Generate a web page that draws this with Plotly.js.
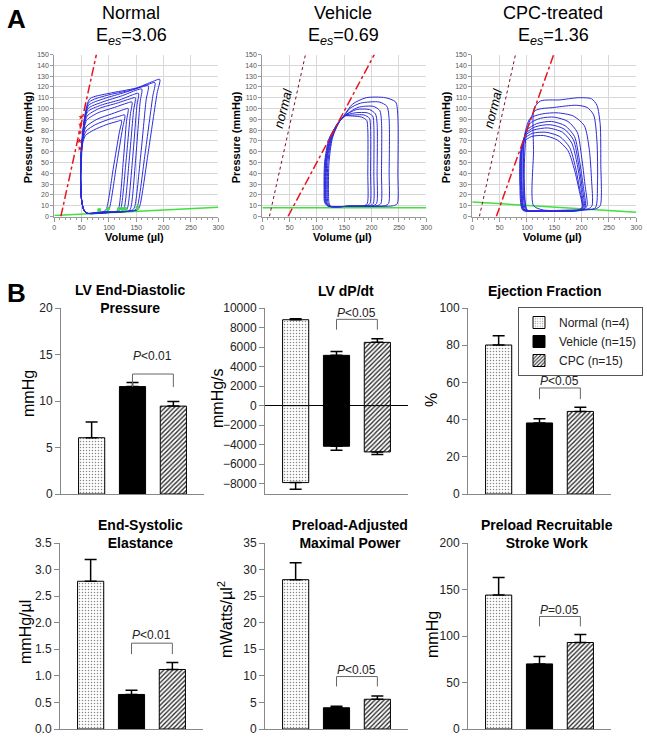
<!DOCTYPE html>
<html>
<head>
<meta charset="utf-8">
<script src="https://cdn.plot.ly/plotly-3.0.1.min.js"></script>
<style>
  body { margin: 0; background: white; }
  #fig { width: 647px; height: 738px; }
</style>
</head>
<body>
<div id="fig"></div>
<script>
// ---------- Panel A: pressure-volume loops (volume in ul, pressure in mmHg) ----------
var normalLoopsV = [
  [60, 80, 92, 96, 108, 119, 123, 115, 95, 72, 57, 52, 49, 48, 50, 54, 60],
  [60, 82, 97, 101, 113, 125, 129, 120, 100, 75, 58, 52, 49, 48, 50, 54, 60],
  [60, 90, 114, 118, 126, 132, 135, 127, 105, 78, 58, 52, 49, 48, 50, 54, 60],
  [60, 92, 118, 122, 131, 139, 142, 133, 110, 80, 59, 53, 49, 48, 50, 54, 60],
  [60, 95, 124, 128, 137, 145, 148, 139, 115, 82, 60, 53, 49, 48, 50, 54, 60],
  [60, 98, 130, 134, 143, 151, 154, 145, 120, 85, 61, 54, 50, 48, 50, 54, 60],
  [60, 100, 136, 140, 149, 157, 160, 150, 125, 88, 62, 54, 50, 48, 50, 54, 60],
  [60, 105, 143, 147, 158, 168, 172, 160, 130, 90, 63, 55, 50, 48, 50, 54, 60],
  [60, 108, 148, 152, 166, 180, 184, 170, 140, 95, 64, 55, 50, 48, 50, 54, 60],
  [60, 110, 152, 156, 172, 188, 193, 180, 150, 100, 65, 56, 51, 49, 50, 54, 60]
];
var normalLoopsP = [
  [3, 4, 5, 8, 45, 78, 89, 88, 85, 80, 75, 68, 55, 35, 15, 6, 3],
  [3, 4, 5, 8, 45, 82, 94, 93, 90, 85, 79, 70, 55, 35, 15, 6, 3],
  [3, 4, 5, 8, 50, 88, 100, 99, 95, 90, 83, 72, 56, 35, 15, 6, 3],
  [3, 4, 5, 8, 50, 94, 106, 105, 101, 96, 89, 76, 58, 35, 15, 6, 3],
  [3, 4, 5, 8, 52, 98, 110, 109, 105, 100, 93, 78, 60, 35, 15, 6, 3],
  [3, 4, 5, 8, 52, 102, 114, 113, 108, 103, 97, 82, 62, 35, 15, 6, 3],
  [3, 4, 5, 8, 54, 106, 118, 117, 112, 106, 100, 85, 64, 35, 15, 6, 3],
  [3, 4, 6, 9, 56, 108, 121, 120, 115, 109, 103, 88, 65, 35, 15, 6, 3],
  [3, 4, 6, 9, 58, 111, 124, 122, 117, 112, 106, 90, 66, 35, 15, 6, 3],
  [3, 4, 6, 9, 60, 114, 127, 125, 119, 114, 109, 94, 68, 35, 15, 6, 3]
];

var vehicleLoopsV = [
  [125, 160, 186, 192, 193, 193, 191, 182, 165, 150, 140, 128, 122, 121, 122, 125],
  [125, 160, 190, 197, 198, 198, 196, 186, 168, 150, 140, 127, 120, 119, 120, 125],
  [124, 160, 196, 203, 204, 204, 202, 192, 170, 150, 140, 126, 118, 117, 118, 124],
  [123, 160, 202, 209, 210, 210, 207, 196, 172, 150, 140, 125, 117, 116, 117, 123],
  [122, 160, 210, 217, 218, 218, 215, 203, 175, 150, 140, 124, 116, 115, 116, 122],
  [121, 160, 224, 231, 232, 232, 228, 214, 180, 160, 150, 139, 123, 115, 114, 115, 121],
  [120, 160, 240, 247, 248, 248, 244, 225, 190, 165, 150, 139, 122, 114, 113, 114, 120]
];
var vehicleLoopsP = [
  [9.5, 9.5, 10, 12, 40, 80, 89, 92, 93, 93, 87, 72, 50, 25, 13, 9.5],
  [9.5, 9.5, 10, 12, 40, 82, 91, 94, 94, 93, 87, 72, 50, 25, 13, 9.5],
  [9.5, 9.5, 10, 12, 40, 84, 93, 96, 96, 93, 87, 72, 50, 25, 13, 9.5],
  [9.5, 9.5, 10, 12, 40, 86, 95, 99, 99, 93, 87, 72, 50, 25, 13, 9.5],
  [9.5, 9.5, 10, 12, 40, 88, 98, 102, 101, 93, 87, 72, 50, 25, 13, 9.5],
  [9.5, 9.5, 10, 12, 40, 90, 102, 106, 105, 100, 93, 87, 72, 50, 25, 13, 9.5],
  [9.5, 9.5, 10, 12, 40, 92, 106, 110, 110, 104, 94, 87, 72, 50, 25, 13, 9.5]
];

var cpcLoopsV = [
  [112, 112, 113, 125, 160, 195, 218, 228, 234, 235, 234, 225, 180, 130, 112],
  [100, 95, 100, 115, 150, 190, 210, 222, 228, 229, 225, 200, 150, 110, 100],
  [100, 94, 96, 106, 128, 155, 185, 205, 214, 218, 219, 212, 170, 120, 100],
  [98, 93, 95, 105, 125, 150, 175, 192, 200, 206, 210, 205, 170, 120, 98],
  [96, 91, 92, 100, 118, 145, 170, 187, 196, 203, 207, 202, 170, 120, 96],
  [95, 90, 91, 98, 115, 142, 168, 185, 194, 201, 205, 200, 165, 115, 95],
  [94, 89, 90, 97, 112, 138, 165, 182, 192, 199, 203, 198, 160, 115, 94],
  [93, 88, 89, 95, 110, 135, 160, 178, 189, 197, 202, 196, 160, 115, 93],
  [92, 87, 88, 94, 108, 130, 155, 175, 187, 196, 201, 195, 160, 115, 92]
];
var cpcLoopsP = [
  [10, 60, 100, 107, 108, 110, 109, 103, 85, 50, 10, 7, 6, 6, 10],
  [6, 40, 80, 98, 101, 103, 101, 94, 70, 30, 8, 6, 5, 5, 6],
  [6, 35, 76, 91, 95, 96, 93, 84, 62, 35, 10, 7, 5, 5, 6],
  [6, 35, 72, 86, 91, 92, 88, 78, 55, 30, 10, 7, 5, 5, 6],
  [6, 30, 65, 80, 86, 88, 84, 74, 52, 28, 9, 6, 5, 5, 6],
  [6, 30, 63, 77, 83, 85, 81, 71, 50, 27, 9, 6, 5, 5, 6],
  [6, 30, 62, 75, 80, 82, 78, 68, 48, 26, 9, 6, 5, 5, 6],
  [6, 30, 60, 72, 77, 78, 74, 64, 45, 24, 9, 6, 5, 5, 6],
  [6, 30, 58, 69, 74, 75, 71, 61, 43, 23, 9, 6, 5, 5, 6]
];

// end-systolic (red) and end-diastolic (green) relations, two end points each
var espvrNormalV = [12, 77],  espvrNormalP = [0, 150];
var espvrVehicleV = [47, 205], espvrVehicleP = [0, 150];
var espvrCpcV = [44, 149],     espvrCpcP = [0, 150];
var refNormalV = [13, 79],     refNormalP = [0, 150];
var edpvrNormalP = [1, 8.6], edpvrVehicleP = [8, 8], edpvrCpcP = [13.5, 4];
var edpvrV = [0, 300];
var esPointsV = [47, 46, 47, 48, 49], esPointsP = [63, 70, 78, 85, 92];
var edPointsV = [82, 98, 118, 125, 130, 152], edPointsP = [6, 7, 7, 7, 7, 8];

var pvTitles = ['Normal', 'Vehicle', 'CPC-treated'];
var eesValues = ['3.06', '0.69', '1.36'];

// ---------- Panel B: group means and SEM ----------
var groups = ['Normal (n=4)', 'Vehicle (n=15)', 'CPC (n=15)'];
var lvedp = [6.05, 11.55, 9.45],    lvedpErr = [1.7, 0.45, 0.5];
var dpdtMax = [8800, 5150, 6480],   dpdtMaxErr = [100, 400, 380];
var dpdtMin = [-7880, -4160, -4740], dpdtMinErr = [690, 400, 260];
var ef = [80.1, 38.2, 44.4],        efErr = [5, 2.3, 2.2];
var ees = [2.78, 0.65, 1.12],       eesErr = [0.41, 0.08, 0.13];
var pamp = [28.1, 4.0, 5.6],        pampErr = [3.2, 0.3, 0.6];
var prsw = [144, 70, 93],           prswErr = [19, 8, 8.5];

// P-value brackets between Vehicle and CPC: [leg bottom, bracket top, text level]
var pTexts = ['<i>P</i><0.01', '<i>P</i><0.05', '<i>P</i><0.05', '<i>P</i><0.01', '<i>P</i><0.05', '<i>P</i>=0.05'];
var pLevels = [[11.5, 12.9, 14.8], [7780, 8840, 9500], [51, 57, 60.6],
               [1.41, 1.615, 1.77], [8.0, 9.87, 11.1], [110.4, 121, 128.2]];

var font = 'Liberation Sans, Arial, sans-serif';
function px(x) { return x / 647; }
function py(y) { return 1 - y / 738; }

var data = [];
var annotations = [];

function label(text, x, y, size, opts) {
  var a = {text: text, x: px(x), y: py(y), xref: 'paper', yref: 'paper', showarrow: false,
    xanchor: 'center', yanchor: 'middle', font: {family: font, size: size, color: '#000'}};
  for (var key in (opts || {})) a[key] = opts[key];
  annotations.push(a);
}

// ---------- PV loop panels ----------
var loopSets = [[normalLoopsV, normalLoopsP], [vehicleLoopsV, vehicleLoopsP], [cpcLoopsV, cpcLoopsP]];
var espvrs = [[espvrNormalV, espvrNormalP], [espvrVehicleV, espvrVehicleP], [espvrCpcV, espvrCpcP]];
var edpvrs = [edpvrNormalP, edpvrVehicleP, edpvrCpcP];
var pvLeft = [54.3, 262.3, 472.3];
var pvCenter = [131, 343, 553];

for (var k = 0; k < 3; k++) {
  var xa = 'x' + (k + 1), ya = 'y' + (k + 1);
  data.push({x: edpvrV, y: edpvrs[k], xaxis: xa, yaxis: ya, mode: 'lines',
    line: {color: '#3fe03f', width: 1.5}, showlegend: false, hoverinfo: 'skip'});
  if (k > 0) {
    data.push({x: refNormalV, y: refNormalP, xaxis: xa, yaxis: ya, mode: 'lines',
      line: {color: '#7a1020', width: 1, dash: 'dot'}, showlegend: false, hoverinfo: 'skip'});
  }
  var lv = loopSets[k][0], lp = loopSets[k][1];
  for (var i = 0; i < lv.length; i++) {
    data.push({x: lv[i], y: lp[i], xaxis: xa, yaxis: ya, mode: 'lines',
      line: {color: '#2b2bdc', width: 1, shape: 'spline', smoothing: 0.7},
      showlegend: false, hoverinfo: 'skip'});
  }
  data.push({x: espvrs[k][0], y: espvrs[k][1], xaxis: xa, yaxis: ya, mode: 'lines',
    line: {color: '#e8141c', width: 1.5, dash: 'dashdot'}, showlegend: false, hoverinfo: 'skip'});

  label(pvTitles[k], pvCenter[k], 13, 18);
  label('E<sub><i>es</i></sub>=' + eesValues[k], pvCenter[k], 36, 18);
  label('<b>Volume (µl)</b>', pvLeft[k] + 80, 237, 11);
  label('<b>Pressure (mmHg)</b>', pvLeft[k] - 26, 137, 11, {textangle: -90});
  if (k > 0) {
    annotations.push({text: '<i>normal</i>', x: 38, y: 100, xref: xa, yref: ya, textangle: -76,
      xanchor: 'center', yanchor: 'middle', showarrow: false, font: {family: font, size: 13, color: '#000'}});
  }
}
data.push({x: esPointsV, y: esPointsP, xaxis: 'x1', yaxis: 'y1', mode: 'markers',
  marker: {color: '#e8141c', size: 4, symbol: 'star'}, showlegend: false, hoverinfo: 'skip'});
data.push({x: edPointsV, y: edPointsP, xaxis: 'x1', yaxis: 'y1', mode: 'markers',
  marker: {color: '#3fe03f', size: 4}, showlegend: false, hoverinfo: 'skip'});

// ---------- bar panels ----------
var barFill = [
  {color: 'white', line: {color: '#000', width: 1},
   pattern: {shape: '.', fgcolor: '#888', bgcolor: 'white', size: 3, solidity: 0.2}},
  {color: '#000', line: {color: '#000', width: 1}},
  {color: 'white', line: {color: '#000', width: 1},
   pattern: {shape: '/', fgcolor: '#222', bgcolor: 'white', size: 3.2, solidity: 0.4}}
];
var barSets = [[lvedp, lvedpErr], [dpdtMax, dpdtMaxErr], [ef, efErr], [ees, eesErr], [pamp, pampErr], [prsw, prswErr]];
var barTitles = ['LV End-Diastolic<br>Pressure', 'LV dP/dt', 'Ejection Fraction',
                 'End-Systolic<br>Elastance', 'Preload-Adjusted<br>Maximal Power', 'Preload Recruitable<br>Stroke Work'];
var barUnits = ['mmHg', 'mmHg/s', '%', 'mmHg/µl', 'mWatts/µl<sup>2</sup>', 'mmHg'];
var titlePos = [[130, 299], [346, 291], [545, 291], [140, 534], [350, 534], [547, 534]];
var unitPos = [[28, 394], [217, 398], [432, 400], [25, 632], [225, 620], [432, 635]];

for (var c = 0; c < 6; c++) {
  var n = c + 4;
  var xa = 'x' + n, ya = 'y' + n;
  for (var g = 0; g < 3; g++) {
    data.push({type: 'bar', x: [g], y: [barSets[c][0][g]], width: 0.64, xaxis: xa, yaxis: ya,
      name: groups[g], marker: barFill[g], showlegend: c === 2, legendgroup: groups[g], hoverinfo: 'skip',
      error_y: {type: 'data', symmetric: false, array: [barSets[c][1][g]], arrayminus: [0],
                color: '#000', thickness: 1.5, width: 6}});
    if (c === 1) {
      data.push({type: 'bar', x: [g], y: [dpdtMin[g]], width: 0.64, xaxis: xa, yaxis: ya,
        name: groups[g], marker: barFill[g], showlegend: false, legendgroup: groups[g], hoverinfo: 'skip',
        error_y: {type: 'data', symmetric: false, array: [0], arrayminus: [dpdtMinErr[g]],
                  color: '#000', thickness: 1.5, width: 6}});
    }
  }
  var lv0 = pLevels[c];
  data.push({x: [1, 1, 2, 2], y: [lv0[0], lv0[1], lv0[1], lv0[0]], xaxis: xa, yaxis: ya, mode: 'lines',
    line: {color: '#666', width: 1}, showlegend: false, hoverinfo: 'skip'});
  annotations.push({text: pTexts[c], x: 1.5, y: lv0[2], xref: xa, yref: ya, showarrow: false,
    xanchor: 'center', yanchor: 'middle', font: {family: font, size: 12, color: '#222'}});
  label('<b>' + barTitles[c].replace('<br>', '</b><br><b>') + '</b>', titlePos[c][0], titlePos[c][1], 14);
  label(barUnits[c], unitPos[c][0], unitPos[c][1], 16, {textangle: -90});
}

label('<b>A</b>', 16, 19, 26);
label('<b>B</b>', 16, 293, 26);

var layout = {
  width: 647, height: 738,
  margin: {l: 0, r: 0, t: 0, b: 0},
  paper_bgcolor: 'white', plot_bgcolor: 'white',
  barmode: 'overlay',
  font: {family: font},
  showlegend: true,
  legend: {x: px(518), y: py(307), xanchor: 'left', yanchor: 'top', bgcolor: 'white',
    bordercolor: '#555', borderwidth: 1, font: {family: font, size: 12, color: '#222'},
    tracegroupgap: 0, itemwidth: 30},
  annotations: annotations
};

// PV axes
var pvX = [[54.3, 218.3], [262.3, 426.3], [472.3, 636.3]];
for (var k = 0; k < 3; k++) {
  var sfx = k === 0 ? '' : String(k + 1);
  layout['xaxis' + sfx] = {domain: [px(pvX[k][0]), px(pvX[k][1])], range: [0, 300], anchor: 'y' + (k + 1),
    dtick: 50, showgrid: true, gridcolor: '#d8d8d8', gridwidth: 1, zeroline: false,
    showline: true, linecolor: '#999', ticks: 'outside', ticklen: 4, tickcolor: '#999',
    minor: {dtick: 10, ticks: 'outside', ticklen: 2, tickcolor: '#999', showgrid: false},
    tickfont: {family: font, size: 7, color: '#555'}};
  layout['yaxis' + sfx] = {domain: [py(216.5), py(54.5)], range: [0, 150], anchor: 'x' + (k + 1),
    dtick: 10, showgrid: true, gridcolor: '#d8d8d8', gridwidth: 1, zeroline: false,
    showline: true, linecolor: '#999', ticks: 'outside', ticklen: 3, tickcolor: '#999',
    tickfont: {family: font, size: 7, color: '#555'}};
}

// bar axes
var barX = [[61, 204], [265, 408], [468, 611], [60, 203], [265, 408], [468, 611]];
var barY = [[494, 308], [494, 308], [494, 308], [729, 543], [729, 543], [729, 543]];
var barRange = [[0, 20], [-9050, 10000], [0, 100], [0, 3.5], [0, 35], [0, 200]];
var barDtick = [5, 2000, 20, 0.5, 5, 50];
for (var c = 0; c < 6; c++) {
  var n = c + 4;
  layout['xaxis' + n] = {domain: [px(barX[c][0]), px(barX[c][1])], range: [-0.75, 2.75], anchor: 'y' + n,
    showline: true, linecolor: '#888', showgrid: false, zeroline: false, ticks: '', showticklabels: false};
  layout['yaxis' + n] = {domain: [py(barY[c][0]), py(barY[c][1])], range: barRange[c], anchor: 'x' + n,
    dtick: barDtick[c], tick0: 0, showline: true, linecolor: '#888', showgrid: false,
    zeroline: c === 1, zerolinecolor: '#000', zerolinewidth: 1,
    ticks: 'outside', ticklen: 5, tickcolor: '#888',
    tickformat: c === 3 ? '.1f' : 'd',
    tickfont: {family: font, size: 12, color: '#222'}};
}

Plotly.newPlot('fig', data, layout, {displayModeBar: false, staticPlot: true});
</script>
</body>
</html>
